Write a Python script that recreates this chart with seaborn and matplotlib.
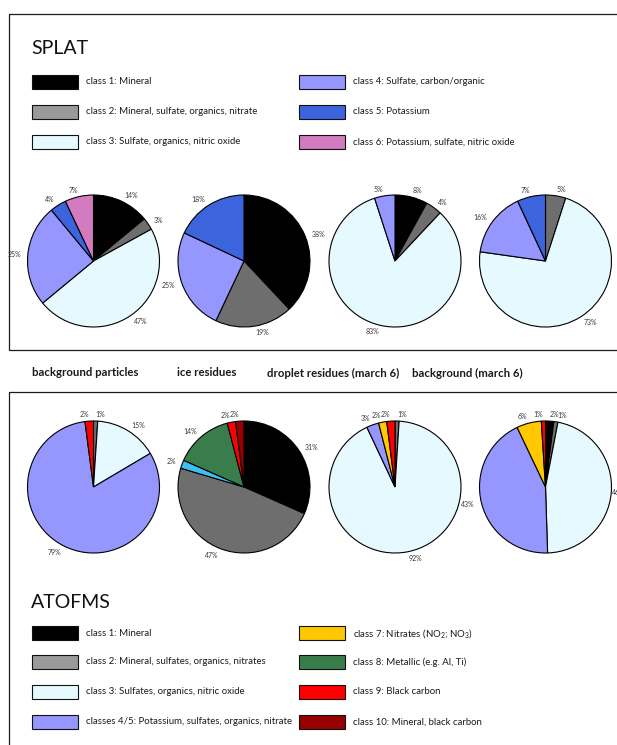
import matplotlib
matplotlib.use("Agg")
import matplotlib.pyplot as plt
from matplotlib.patches import Rectangle
import seaborn as sns

sns.set_theme(style="white")
plt.rcParams["font.family"] = ["Lato", "DejaVu Sans"]
plt.rcParams["mathtext.default"] = "regular"

W, H = 617, 745

# ---- data -------------------------------------------------------------
samples = ["background particles", "ice residues",
           "droplet residues (march 6)", "background (march 6)"]

splat_labels = ["class 1: Mineral",
                "class 2: Mineral, sulfate, organics, nitrate",
                "class 3: Sulfate, organics, nitric oxide",
                "class 4: Sulfate, carbon/organic",
                "class 5: Potassium",
                "class 6: Potassium, sulfate, nitric oxide"]
splat_swatch = ["#000000", "#9a9a9a", "#e6f9fe", "#9696ff", "#3c64dc", "#d27bc0"]
splat_pie = ["#000000", "#6e6e6e", "#e6f9fe", "#9696ff", "#3c64dc", "#d27bc0"]

# percent per class (class 1..6) for each sample
splat_bg = [14, 3, 47, 25, 4, 7]
splat_ice = [38, 19, 0, 25, 18, 0]
splat_drop = [8, 4, 83, 5, 0, 0]
splat_bg6 = [0, 5, 73, 16, 7, 0]

atofms_labels = ["class 1: Mineral",
                 "class 2: Mineral, sulfates, organics, nitrates",
                 "class 3: Sulfates, organics, nitric oxide",
                 "classes 4/5: Potassium, sulfates, organics, nitrate",
                 "class 7: Nitrates (NO$_2$; NO$_3$)",
                 "class 8: Metallic (e.g. Al, Ti)",
                 "class 9: Black carbon",
                 "class 10: Mineral, black carbon"]
atofms_swatch = ["#000000", "#9a9a9a", "#e6f9fe", "#9696ff",
                 "#ffc800", "#3a7d4c", "#ff0000", "#960000"]
# pie categories: class 1, 2, 3, 4/5, 6, 7, 8, 9, 10
atofms_pie = ["#000000", "#6e6e6e", "#e6f9fe", "#9696ff", "#40bff5",
              "#ffc800", "#3a7d4c", "#ff0000", "#960000"]
atofms_bg = [0, 1, 15, 79, 0, 0, 0, 2, 0]
atofms_ice = [31, 47, 0, 0, 2, 0, 14, 2, 2]
atofms_drop = [0, 1, 92, 3, 0, 2, 0, 2, 0]
atofms_bg6 = [2, 1, 46, 43, 0, 6, 0, 1, 0]

# ---- figure -------------------------------------------------------------
fig = plt.figure(figsize=(W / 100, H / 100), dpi=100)
fig.patch.set_facecolor("white")

base = fig.add_axes([0, 0, 1, 1])
base.set_xlim(0, W)
base.set_ylim(H, 0)
base.axis("off")

# framed panels
base.add_patch(Rectangle((8.5, 13.5), 700, 336.5, fill=False,
                         edgecolor="#1a1a1a", linewidth=0.9))
base.add_patch(Rectangle((9, 391.5), 700, 400, fill=False,
                         edgecolor="#1a1a1a", linewidth=0.9))


def draw_pie(values, colors, cx, cy, r):
    pad = 1.6 * r
    ax = fig.add_axes([(cx - pad) / W, 1 - (cy + pad) / H,
                       2 * pad / W, 2 * pad / H])
    ax.patch.set_alpha(0)
    vals = [v for v in values if v > 0]
    cols = [c for v, c in zip(values, colors) if v > 0]
    _, texts = ax.pie(vals, colors=cols, labels=[f"{v}%" for v in vals],
                      startangle=90, counterclock=False, labeldistance=1.1,
                      wedgeprops=dict(edgecolor="black", linewidth=0.8),
                      textprops=dict(fontsize=5.0, color="#3a3a3a"))
    # labels that would start past the right page edge sit on the rim
    for t in texts:
        x, y = t.get_position()
        if cx + x * r > W - 8:
            t.set_position((x / 1.1 * 1.01, y / 1.1 * 1.01))
    ax.set_xlim(-pad / r, pad / r)
    ax.set_ylim(-pad / r, pad / r)
    ax.axis("off")


centers_x = [93.5, 244, 395, 545.5]
for vals, cx in zip([splat_bg, splat_ice, splat_drop, splat_bg6], centers_x):
    draw_pie(vals, splat_pie, cx, 261, 66)
for vals, cx in zip([atofms_bg, atofms_ice, atofms_drop, atofms_bg6], centers_x):
    draw_pie(vals, atofms_pie, cx, 487, 66)

# sample titles between panels
for name, x in zip(samples, [32, 177, 267, 412]):
    base.text(x, 373, name, fontsize=8.2, fontweight="bold",
              ha="left", va="center", color="#1a1a1a")


def draw_legend(title, ty, labels, colors, rows_y):
    base.text(31, ty, title, fontsize=14, ha="left", va="center",
              color="#111111")
    ncol1 = len(rows_y)
    for i, (lab, col) in enumerate(zip(labels, colors)):
        y = rows_y[i % ncol1]
        sx, tx = (32, 86) if i < ncol1 else (299, 353)
        base.add_patch(Rectangle((sx, y - 7), 46, 14, facecolor=col,
                                 edgecolor="#111111", linewidth=0.8))
        base.text(tx, y, lab, fontsize=6.9, ha="left", va="center",
                  color="#1a1a1a")


draw_legend("SPLAT", 48, splat_labels, splat_swatch, [82, 112, 142])
draw_legend("ATOFMS", 602, atofms_labels, atofms_swatch, [633, 662, 692, 722])

fig.savefig("out.png", dpi=100)
